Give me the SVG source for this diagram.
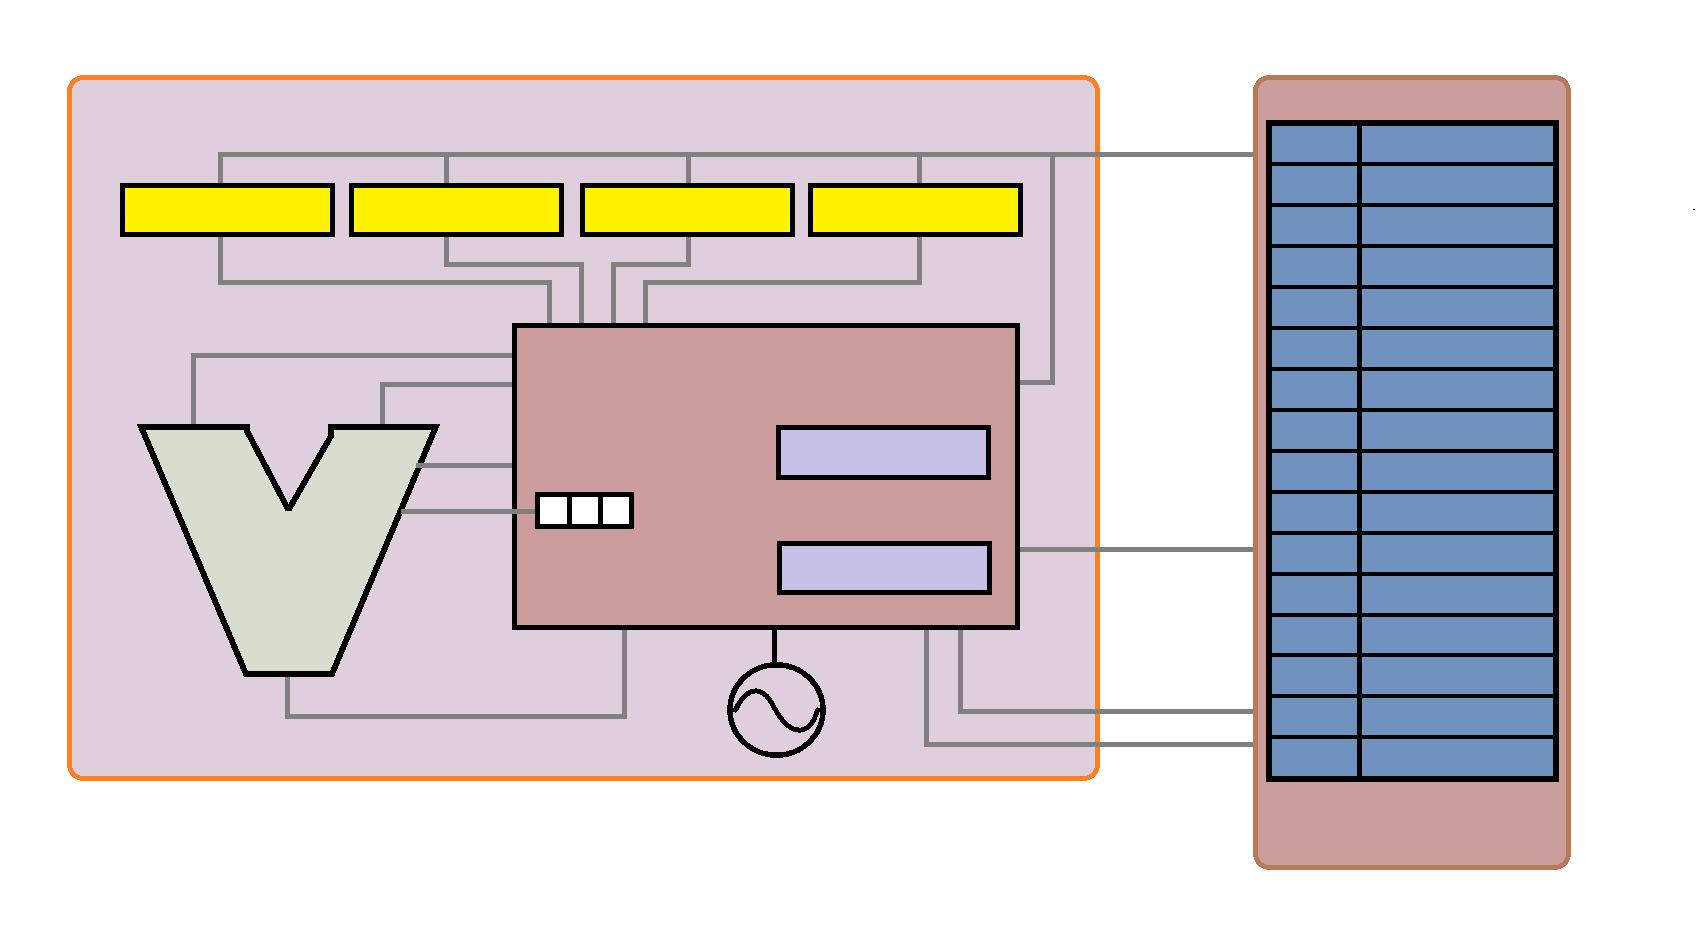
<svg xmlns="http://www.w3.org/2000/svg" width="1696" height="945" viewBox="0 0 1696 945" shape-rendering="crispEdges">
<style>
.n{stroke:#000;stroke-width:5}
.y{fill:#fff200}
.p{fill:#c6c0e5}
.w{fill:none;stroke:#808080;stroke-width:5}
.r{stroke:#000;stroke-width:4;fill:none}
.d{stroke:#000;stroke-width:5;fill:none}
</style>
<rect width="1696" height="945" fill="#fff"/>
<g id="outer-box"><rect x="69.5" y="77.5" width="1028" height="701" rx="14" fill="#dfcfdd" stroke="#ff7f27" stroke-width="5"/></g>
<g id="right-box"><rect x="1255.5" y="77.5" width="313" height="790" rx="14" fill="#cc9d9d" stroke="#b97a57" stroke-width="5"/></g>
<g id="yellow-1"><rect class="n y" x="122.5" y="185.5" width="210" height="49"/></g>
<g id="yellow-2"><rect class="n y" x="351.5" y="185.5" width="210" height="49"/></g>
<g id="yellow-3"><rect class="n y" x="582.5" y="185.5" width="210" height="49"/></g>
<g id="yellow-4"><rect class="n y" x="810.5" y="185.5" width="210" height="49"/></g>
<g id="main-box"><rect class="n" x="514.5" y="325.5" width="503" height="302" fill="#cc9d9d"/></g>
<g id="purple-1"><rect class="n p" x="778.5" y="427.500" width="210" height="49.500"/></g>
<g id="purple-2"><rect class="n p" x="779.5" y="543.5" width="210" height="49"/></g>
<g id="mux"><path fill="#d7ddcf" stroke="#000" stroke-width="6" stroke-linejoin="miter" stroke-miterlimit="2" d="M141 426.500H247V431L288.500 510L331 436V426.500H436L332 674H246Z"/></g>
<g id="source">
<ellipse fill="none" stroke="#000" stroke-width="5.500" cx="776.500" cy="710" rx="46.500" ry="45.200"/>
<path stroke="#000" stroke-width="5" fill="none" stroke-linecap="round" d="M735.500 710C741 698 749 690 757 691C768 692 772 705 778 714C785 725 793 731 801 730C810 729 815 719 817.500 710"/>
<path class="d" d="M774.500 630V664"/>
</g>
<g id="table">
<rect x="1269" y="123" width="287" height="655.500" fill="#7092be" stroke="#000" stroke-width="6"/>
<path class="d" d="M1359.500 123V778"/>
<path class="r" d="M1269 164H1556M1269 205H1556M1269 246H1556M1269 287H1556M1269 328H1556M1269 369H1556M1269 410H1556M1269 451H1556M1269 492H1556M1269 532.500H1556M1269 573.500H1556M1269 614.500H1556M1269 655H1556M1269 696H1556M1269 737H1556"/>
</g>
<g id="connectors">
<path class="w" d="M220.500 183V154.500H1254M446.500 154.500V183M688.500 154.500V183M919.500 154.500V183"/>
<path class="w" d="M1052.500 154.500V382.500H1020"/>
<path class="w" d="M220.500 237V282.500H549.500V323"/>
<path class="w" d="M446.500 237V264.500H581.500V323"/>
<path class="w" d="M688.500 237V264.500H613.500V323"/>
<path class="w" d="M919.500 237V282.500H645.500V323"/>
<path class="w" d="M512 355.500H193.500V424"/>
<path class="w" d="M512 384.500H382.500V424"/>
<path class="w" d="M416 465.500H512"/>
<path class="w" d="M401 511.500H535"/>
<path class="w" d="M287.500 677V716.500H624.500V630"/>
<path class="w" d="M1020 549.500H1253"/>
<path class="w" d="M960.500 630V711.500H1253"/>
<path class="w" d="M926.500 630V744.500H1253"/>
</g>
<g id="register">
<rect class="n" x="537.500" y="494.500" width="94" height="32" fill="#fff"/>
<path class="n" fill="none" d="M569 494.500V526.500M600.500 494.500V526.500"/>
</g>
<rect id="speck" x="1693" y="209" width="2" height="1" fill="#000"/>
</svg>
